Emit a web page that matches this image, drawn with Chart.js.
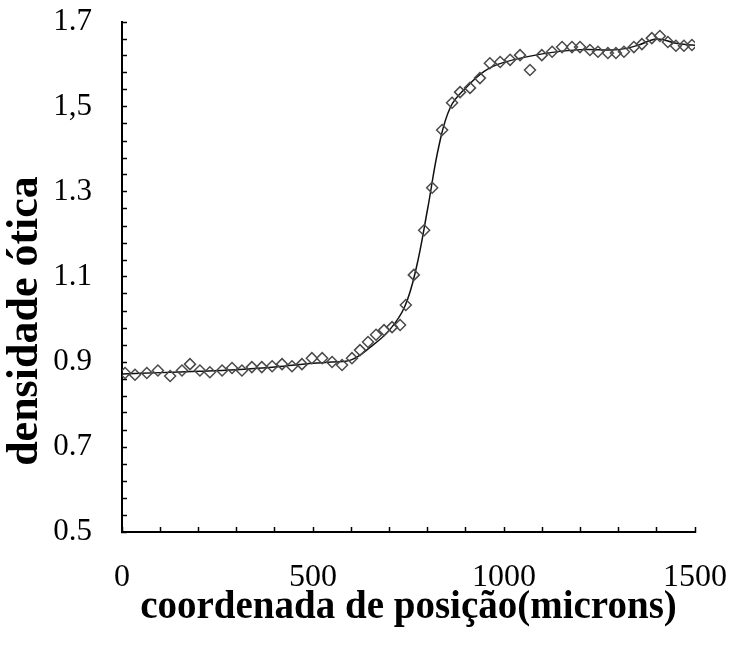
<!DOCTYPE html>
<html lang="pt">
<head>
<meta charset="UTF-8">
<title>densidade ótica</title>
<script src="https://cdn.jsdelivr.net/npm/chart.js"></script>
<style>
  body { margin: 0; background: #fff; }
  #wrap { width: 731px; height: 649px; }
</style>
</head>
<body>
<div id="wrap"><canvas id="c" width="731" height="649"></canvas></div>
<script>
// medições (pontos)
const posX = [8, 34, 65, 94, 126, 157, 178, 204, 230, 262, 288, 314, 340, 366, 393, 419, 445, 471, 497, 524,
  550, 576, 602, 623, 644, 665, 686, 707, 728, 743, 764, 791, 812, 838, 864, 885, 911, 937, 963, 990,
  1016, 1042, 1068, 1099, 1126, 1152, 1178, 1199, 1225, 1246, 1272, 1293, 1314, 1340, 1361, 1387, 1408, 1429, 1450, 1471, 1492];
const densidade = [0.874, 0.870, 0.874, 0.880, 0.867, 0.880, 0.895, 0.880, 0.876, 0.880, 0.886, 0.880, 0.888, 0.888, 0.890, 0.895, 0.890, 0.895, 0.909, 0.909,
  0.900, 0.893, 0.909, 0.928, 0.947, 0.964, 0.975, 0.982, 0.987, 1.034, 1.105, 1.210, 1.310, 1.446, 1.510, 1.535, 1.545, 1.568, 1.603, 1.606,
  1.611, 1.622, 1.587, 1.622, 1.630, 1.641, 1.641, 1.641, 1.634, 1.630, 1.627, 1.627, 1.630, 1.641, 1.648, 1.662, 1.667, 1.653, 1.644, 1.644, 1.646];

// curva ajustada
const curvaX = [0, 100, 200, 300, 400, 500, 550, 600, 650, 700, 740, 770, 800, 830, 860, 900, 950, 1000, 1100, 1200, 1300, 1350, 1400, 1450, 1500];
const curvaY = [0.872, 0.875, 0.878, 0.882, 0.888, 0.897, 0.900, 0.905, 0.935, 0.975, 1.030, 1.120, 1.260, 1.410, 1.500, 1.545, 1.585, 1.605, 1.625, 1.635, 1.635, 1.645, 1.660, 1.650, 1.645];

const yTicks = [0.5, 0.7, 0.9, 1.1, 1.3, 1.5, 1.7];
const yTickLabels = ['0.5', '0.7', '0.9', '1.1', '1.3', '1,5', '1.7'];
const xTicks = [0, 500, 1000, 1500];
const xTickLabels = ['0', '500', '1000', '1500'];

const serif = '"Liberation Serif", "Times New Roman", serif';

new Chart(document.getElementById('c'), {
  type: 'scatter',
  data: {
    datasets: [
      {
        data: posX.map((x, i) => ({ x: x, y: densidade[i] })),
        pointStyle: 'rectRot',
        pointRadius: 5.5,
        pointBorderColor: '#4a4a4a',
        pointBorderWidth: 1.5,
        pointBackgroundColor: 'rgba(255,255,255,0)'
      },
      {
        data: curvaX.map((x, i) => ({ x: x, y: curvaY[i] })),
        showLine: true,
        borderColor: '#111',
        borderWidth: 1.5,
        tension: 0.4,
        pointRadius: 0
      }
    ]
  },
  options: {
    responsive: false,
    animation: false,
    layout: { padding: 0 },
    plugins: { legend: { display: false }, tooltip: { enabled: false } },
    scales: {
      x: {
        type: 'linear',
        min: 0, max: 1500,
        // fixed box size; tick padding would otherwise be added to the side padding
        afterFit: s => { s.height = 117; s.paddingLeft = 10; s.paddingRight = 36; },
        afterBuildTicks: s => { s.ticks = Array.from({ length: 16 }, (_, i) => ({ value: i * 100 })); },
        ticks: {
          color: '#000',
          font: { family: serif, size: 32, lineHeight: 1 },
          padding: 35,
          maxRotation: 0,
          autoSkip: false,
          callback: v => { const k = xTicks.indexOf(v); return k >= 0 ? xTickLabels[k] : ''; }
        },
        grid: { drawOnChartArea: false, tickLength: -5, tickColor: '#000', tickWidth: 1.5 },
        border: { color: '#000', width: 2 },
        title: {
          display: true,
          text: 'coordenada de posição(microns)',
          color: '#000',
          font: { family: serif, size: 39, weight: 'bold', lineHeight: 1 },
          padding: { top: 0, bottom: 22 }
        }
      },
      y: {
        min: 0.5, max: 1.7,
        afterFit: s => { s.width = 122; s.paddingTop = 22; s.paddingBottom = 18; },
        afterBuildTicks: s => { s.ticks = Array.from({ length: 31 }, (_, i) => ({ value: +(0.5 + i * 0.04).toFixed(2) })); },
        ticks: {
          color: '#000',
          font: { family: serif, size: 31 },
          padding: 35,
          autoSkip: false,
          callback: v => {
            const k = yTicks.findIndex(t => Math.abs(t - v) < 1e-6);
            return k >= 0 ? yTickLabels[k] : '';
          }
        },
        grid: { drawOnChartArea: false, tickLength: -5, tickColor: '#000', tickWidth: 1.5 },
        border: { color: '#000', width: 2 },
        title: {
          display: true,
          text: 'densidade ótica\u00a0\u00a0\u00a0\u00a0\u00a0\u00a0\u00a0\u00a0',
          color: '#000',
          font: { family: serif, size: 44, weight: 'bold', lineHeight: 1 },
          padding: { top: 4, bottom: 0 }
        }
      }
    }
  }
});
</script>
</body>
</html>
